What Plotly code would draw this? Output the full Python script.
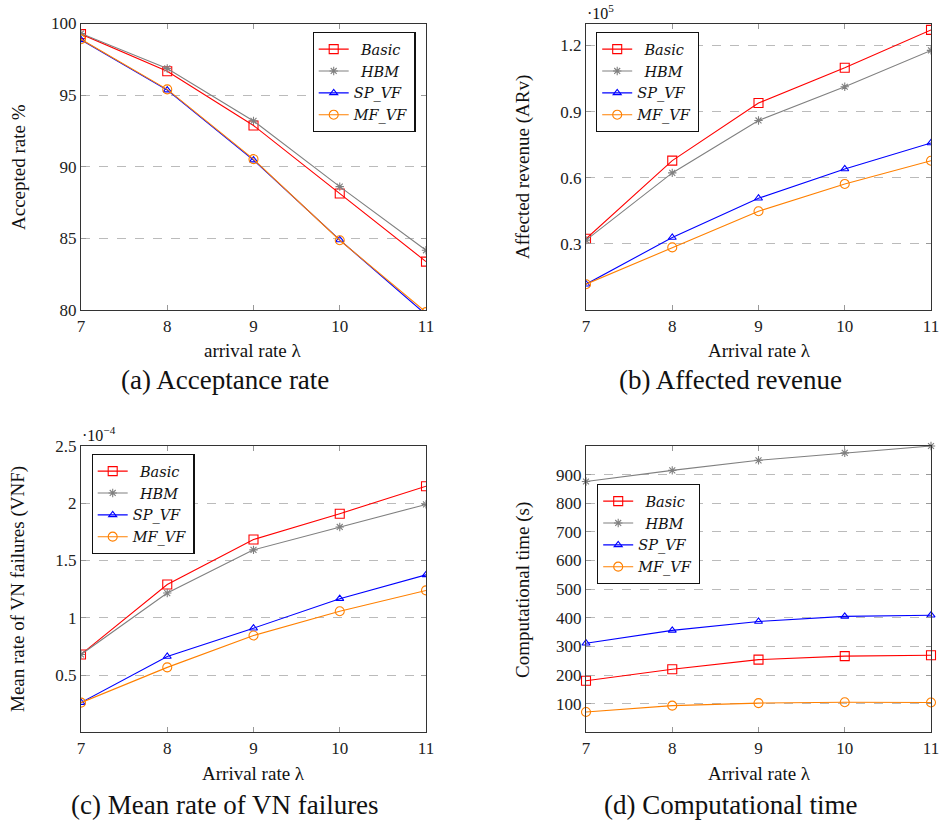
import plotly.graph_objects as go

# ---------------- data ----------------
lam = [7, 8, 9, 10, 11]
series_names = ["Basic", "HBM", "SP_VF", "MF_VF"]
legend_labels = ["\u2002Basic", "\u2002HBM", "SP_VF", "MF_VF"]

# (a) accepted rate %
acc_basic = [99.26, 96.67, 92.88, 88.13, 83.38]
acc_hbm = [99.30, 96.86, 93.20, 88.61, 84.17]
acc_sp = [98.86, 95.35, 90.46, 84.89, 79.68]
acc_mf = [98.90, 95.40, 90.53, 84.87, 79.85]

# (b) affected revenue, in units of 1e5
rev_basic = [0.323, 0.678, 0.939, 1.099, 1.271]
rev_hbm = [0.317, 0.622, 0.860, 1.013, 1.178]
rev_sp = [0.117, 0.329, 0.507, 0.640, 0.758]
rev_mf = [0.117, 0.284, 0.448, 0.572, 0.677]

# (c) mean rate of VN failures, in units of 1e-4
vnf_basic = [0.680, 1.291, 1.683, 1.909, 2.149]
vnf_hbm = [0.680, 1.216, 1.593, 1.793, 1.990]
vnf_sp = [0.259, 0.662, 0.909, 1.167, 1.375]
vnf_mf = [0.259, 0.567, 0.845, 1.057, 1.239]

# (d) computational time (s)
t_basic = [180, 220, 254, 266, 269]
t_hbm = [876, 915, 950, 976, 1000]
t_sp = [311, 356, 387, 405, 409]
t_mf = [71, 93, 102, 105, 104]

x_ticks = [7, 8, 9, 10, 11]
acc_ticks = [80, 85, 90, 95, 100]
rev_ticks = [0.3, 0.6, 0.9, 1.2]
vnf_ticks = [0.5, 1, 1.5, 2, 2.5]
vnf_ticktext = ["0.5", "1", "1.5", "2", "2.5"]
t_ticks = [100, 200, 300, 400, 500, 600, 700, 800, 900]

# ---------------- styling ----------------
W, H = 940, 823
FONT = "Liberation Serif"
LEGFONT = "DejaVu Serif"
colors = {"Basic": "#FF0000", "HBM": "#808080", "SP_VF": "#0000FF", "MF_VF": "#FF8000"}
symbols = {"Basic": "square-open", "HBM": "asterisk-open", "SP_VF": "triangle-up-open", "MF_VF": "circle-open"}
msize = {"Basic": 9, "HBM": 7, "SP_VF": 7, "MF_VF": 9}


def px(x):
    return x / W


def py(y):
    return 1 - y / H


fig = go.Figure()

panels = [
    ("", "", [acc_basic, acc_hbm, acc_sp, acc_mf], "legend", True),
    ("2", "2", [rev_basic, rev_hbm, rev_sp, rev_mf], "legend2", True),
    ("3", "3", [vnf_basic, vnf_hbm, vnf_sp, vnf_mf], "legend3", True),
    ("4", "4", [t_basic, t_hbm, t_sp, t_mf], "legend4", False),
]

for xs, ys, data, leg, clip in panels:
    for name, label, vals in zip(series_names, legend_labels, data):
        fig.add_trace(go.Scatter(
            x=lam, y=vals, name=label, mode="lines+markers",
            xaxis="x" + xs, yaxis="y" + ys, legend=leg,
            cliponaxis=clip,
            line=dict(color=colors[name], width=1.1),
            marker=dict(symbol=symbols[name], size=msize[name],
                        color=colors[name], line=dict(width=1.1, color=colors[name])),
        ))

axis_common = dict(
    showline=True, linecolor="#333333", linewidth=1.2, mirror="allticks",
    ticks="inside", ticklen=5, tickcolor="#999999", tickwidth=1,
    zeroline=False, automargin=False, ticklabeloverflow="allow",
    tickfont=dict(family=FONT, size=17, color="#222222"),
)

x_dom_left = [px(81), px(426)]
x_dom_right = [px(586), px(931)]
y_dom_top = [py(310), py(23.5)]
y_dom_bot = [py(732.3), py(446)]

layout = dict(
    width=W, height=H, margin=dict(l=0, r=0, t=0, b=0, autoexpand=False),
    paper_bgcolor="white", plot_bgcolor="white",
    font=dict(family=FONT, color="#222222"),
)

xkeys = [("xaxis", "y", x_dom_left), ("xaxis2", "y2", x_dom_right),
         ("xaxis3", "y3", x_dom_left), ("xaxis4", "y4", x_dom_right)]
for key, anchor, dom in xkeys:
    layout[key] = dict(axis_common, domain=dom, anchor=anchor, range=[7, 11],
                       tickvals=x_ticks, showgrid=False)

grid = dict(showgrid=True, gridcolor="#BBBBBB", griddash="dash", gridwidth=1)
layout["yaxis"] = dict(axis_common, **grid, domain=y_dom_top, anchor="x", range=[80, 100],
                       tickvals=acc_ticks)
layout["yaxis2"] = dict(axis_common, **grid, domain=y_dom_top, anchor="x2", range=[0, 1.3],
                        tickvals=rev_ticks, tickformat=".1f")
layout["yaxis3"] = dict(axis_common, **grid, domain=y_dom_bot, anchor="x3", range=[0, 2.5],
                        tickvals=vnf_ticks, ticktext=vnf_ticktext)
layout["yaxis4"] = dict(axis_common, **grid, domain=y_dom_bot, anchor="x4", range=[0, 1000],
                        tickvals=t_ticks)

leg_common = dict(bgcolor="white", bordercolor="#111111", borderwidth=1.2,
                  font=dict(family=LEGFONT, size=14.5, style="italic", color="#111111"),
                  itemwidth=30, tracegroupgap=0)
layout["legend"] = dict(leg_common, x=px(415.5), y=py(32), xanchor="right", yanchor="top")
layout["legend2"] = dict(leg_common, x=px(596), y=py(32), xanchor="left", yanchor="top")
layout["legend3"] = dict(leg_common, x=px(91.5), y=py(454), xanchor="left", yanchor="top")
layout["legend4"] = dict(leg_common, x=px(597), y=py(484), xanchor="left", yanchor="top")

fig.update_layout(**layout)

ann = []


def text(x, y, s, size, angle=0, xanchor="center", yanchor="middle"):
    ann.append(dict(x=px(x), y=py(y), xref="paper", yref="paper", text=s, showarrow=False,
                    textangle=angle, xanchor=xanchor, yanchor=yanchor,
                    font=dict(family=FONT, size=size, color="#111111")))


# axis titles
text(253, 350, "arrival rate λ", 19)
text(759, 350, "Arrival rate λ", 19)
text(253, 773, "Arrival rate λ", 19)
text(759, 773, "Arrival rate λ", 19)
text(18, 167, "Accepted rate %", 19, angle=-90)
text(523, 167, "Affected revenue (ARv)", 19, angle=-90)
text(18, 589, "Mean rate of VN failures (VNF)", 19, angle=-90)
text(523, 590, "Computational time (s)", 19, angle=-90)

# multipliers
text(585, 12, "·10<sup>5</sup>", 16, xanchor="left", yanchor="middle")
text(80, 434, "·10<sup>−4</sup>", 16, xanchor="left", yanchor="middle")

# captions
text(225, 380, "(a) Acceptance rate", 27)
text(730, 380, "(b) Affected revenue", 27)
text(225, 805, "(c) Mean rate of VN failures", 27)
text(730, 805, "(d) Computational time", 27)

fig.update_layout(annotations=ann)

fig.write_html("out.html", config={"displayModeBar": False},
               post_script="document.body.style.margin='0px';")
